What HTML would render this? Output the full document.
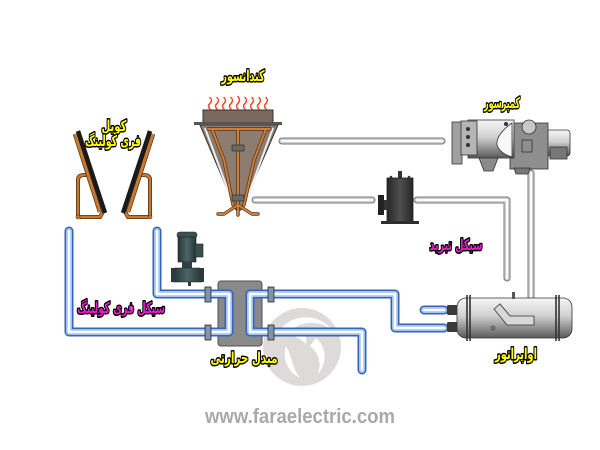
<!DOCTYPE html>
<html><head><meta charset="utf-8">
<style>
html,body{margin:0;padding:0;background:#fff;}
svg{display:block;}
.lbl{font-family:"DejaVu Sans",sans-serif;font-weight:bold;font-size:15px;stroke:#000;stroke-width:3px;paint-order:stroke fill;stroke-linejoin:round;}
.y{fill:#ffff00;}
.m{fill:#e61ec8;}
</style></head><body>
<svg width="600" height="450" viewBox="0 0 600 450" xmlns="http://www.w3.org/2000/svg">
<defs>
 <linearGradient id="cyl" x1="0" y1="0" x2="0" y2="1">
   <stop offset="0" stop-color="#f6f6f6"/><stop offset="0.45" stop-color="#d0d0d0"/><stop offset="1" stop-color="#5a5a5a"/>
 </linearGradient>
 <linearGradient id="dark" x1="0" y1="0" x2="1" y2="0">
   <stop offset="0" stop-color="#262626"/><stop offset="0.5" stop-color="#505050"/><stop offset="1" stop-color="#262626"/>
 </linearGradient>
 <linearGradient id="pumpg" x1="0" y1="0" x2="1" y2="0">
   <stop offset="0" stop-color="#253535"/><stop offset="0.5" stop-color="#4c6464"/><stop offset="1" stop-color="#253535"/>
 </linearGradient>
 <path id="bp" d="M69,231 V332 H212 M157,231 V294 H212 M206,294 H229 V332 H206 M274,294 H250 V332 H274 M270,294 H395 V328 H444 M270,332 H362 V370 M424,310 H444"/>
 <path id="gp" d="M282,141 H442 M255,200 H372 M417,200 H507 V278 M531,173 V297"/>
 <g id="coil">
   <path d="M78,217 V180 Q78,175 84,175 H88" fill="none" stroke="#5a3210" stroke-width="4"/>
   <path d="M78,217 V180 Q78,175 84,175 H88" fill="none" stroke="#c47a34" stroke-width="2.4"/>
   <path d="M80,217 H100 L104,210" fill="none" stroke="#5a3210" stroke-width="4"/>
   <path d="M80,217 H100 L104,210" fill="none" stroke="#c47a34" stroke-width="2.4"/>
   <path d="M75,134 L100,212" fill="none" stroke="#5a3210" stroke-width="4.5"/>
   <path d="M75,134 L100,212" fill="none" stroke="#c47a34" stroke-width="3"/>
   <path d="M78,131 L105,213" fill="none" stroke="#1a1a1a" stroke-width="4.5"/>
   <circle cx="78" cy="217" r="2" fill="#c47a34" stroke="#5a3210" stroke-width="0.6"/>
 </g>
</defs>
<rect width="600" height="450" fill="#fff"/>

<!-- watermark -->
<circle cx="302" cy="347" r="39" fill="#dedada"/>
<path d="M280,330 C292,314 318,312 332,330 C322,322 306,320 294,328 C302,330 308,336 306,344 C300,338 290,334 280,330 Z" fill="#fff"/>
<path d="M316,338 C326,346 328,362 318,374 C322,362 318,352 310,346 Z" fill="#fff"/>
<path d="M286,346 C292,356 292,368 300,378 C288,372 282,360 286,346 Z" fill="#fff"/>
<text x="300" y="423" text-anchor="middle" font-family="Liberation Sans, sans-serif" font-weight="bold" font-size="20" fill="#a9a9a9" textLength="190" lengthAdjust="spacingAndGlyphs">www.faraelectric.com</text>

<!-- gray refrigerant pipes -->
<use href="#gp" fill="none" stroke="#7a7a7a" stroke-width="7" stroke-linecap="round" stroke-linejoin="round"/>
<use href="#gp" fill="none" stroke="#d0d0d0" stroke-width="5" stroke-linecap="round" stroke-linejoin="round"/>
<use href="#gp" fill="none" stroke="#fbfbfb" stroke-width="2" stroke-linecap="round" stroke-linejoin="round"/>

<!-- heat exchanger body -->
<rect x="218" y="281" width="44" height="65" rx="3" fill="#8a8a8a" stroke="#505050" stroke-width="1"/>

<!-- blue pipes -->
<use href="#bp" fill="none" stroke="#3466b8" stroke-width="9" stroke-linecap="round" stroke-linejoin="round"/>
<use href="#bp" fill="none" stroke="#a3c2ec" stroke-width="6" stroke-linecap="round" stroke-linejoin="round"/>
<use href="#bp" fill="none" stroke="#ffffff" stroke-width="2.6" stroke-linecap="round" stroke-linejoin="round"/>

<!-- HX flanges -->
<g fill="#7f93b0" stroke="#2a2a2a" stroke-width="0.8">
 <rect x="205" y="287" width="6" height="15"/>
 <rect x="205" y="325" width="6" height="15"/>
 <rect x="268" y="287" width="6" height="15"/>
 <rect x="268" y="325" width="6" height="15"/>
</g>

<!-- coils -->
<use href="#coil"/>
<use href="#coil" transform="matrix(-1,0,0,1,228,0)"/>

<!-- condenser -->
<g fill="none" stroke="#f04a28" stroke-width="1.5" stroke-linecap="round">
 <path d="M210,109 q-3,-3 0,-5.5 q3,-3 0,-6"/>
 <path d="M217,109 q-3,-3 0,-5.5 q3,-3 0,-6"/>
 <path d="M224,109 q-3,-3 0,-5.5 q3,-3 0,-6"/>
 <path d="M231,109 q-3,-3 0,-5.5 q3,-3 0,-6"/>
 <path d="M238,109 q-3,-3 0,-5.5 q3,-3 0,-7"/>
 <path d="M245,109 q-3,-3 0,-5.5 q3,-3 0,-6"/>
 <path d="M252,109 q-3,-3 0,-5.5 q3,-3 0,-6"/>
 <path d="M259,109 q-3,-3 0,-5.5 q3,-3 0,-6"/>
 <path d="M266,109 q-3,-3 0,-5.5 q3,-3 0,-6"/>
</g>
<polygon points="200,125 278,125 241,210 236,210" fill="#8c7d70" stroke="#333" stroke-width="1"/>
<path d="M205,128 L233,204" stroke="#eeeeee" stroke-width="2"/>
<path d="M273,128 L245,204" stroke="#eeeeee" stroke-width="2"/>
<rect x="203" y="110" width="70" height="13" fill="#7a6a5e" stroke="#333" stroke-width="1"/>
<rect x="194" y="122" width="88" height="3" fill="#555"/>
<g fill="none" stroke="#5a3210" stroke-width="3.4" stroke-linecap="round" stroke-linejoin="round">
 <path d="M208,129 H270"/>
 <path d="M238,129 V215"/>
 <path d="M212,129 L224,160 L233,205"/>
 <path d="M266,129 L254,160 L244,205"/>
 <path d="M238,205 L224,214 H218 M238,205 L252,214 H258"/>
</g>
<g fill="none" stroke="#c8803c" stroke-width="2" stroke-linecap="round" stroke-linejoin="round">
 <path d="M208,129 H270"/>
 <path d="M238,129 V215"/>
 <path d="M212,129 L224,160 L233,205"/>
 <path d="M266,129 L254,160 L244,205"/>
 <path d="M238,205 L224,214 H218 M238,205 L252,214 H258"/>
</g>
<rect x="232" y="145" width="12" height="6" fill="#6a6a6a" stroke="#222" stroke-width="0.6"/>
<rect x="232" y="195" width="12" height="6" fill="#6a6a6a" stroke="#222" stroke-width="0.6"/>

<!-- compressor -->
<g stroke="#333" stroke-width="0.8">
 <rect x="545" y="130" width="25" height="26" rx="3" fill="url(#cyl)"/>
 <rect x="550" y="147" width="17" height="12" fill="#777"/>
 <rect x="510" y="123" width="38" height="46" fill="#8e8e8e"/>
 <rect x="468" y="120" width="46" height="38" fill="url(#cyl)"/>
 <path d="M512,123 C502,130 496,138 497,145 C499,151 505,155 512,157 Z" fill="#f8f8f8"/>
 <rect x="452" y="122" width="10" height="42" fill="#a0a0a0"/>
 <rect x="461" y="121" width="16" height="34" fill="#b5b5b5"/>
 <path d="M479,158 L498,158 L493,171 L484,171 Z" fill="#8a8a8a"/>
 <path d="M514,168 L530,168 L528,174 L516,174 Z" fill="#777"/>
 <circle cx="529" cy="127" r="7" fill="#c8c8c8"/>
 <rect x="522" y="140" width="10" height="12" fill="none"/>
</g>
<g fill="#333">
 <circle cx="468" cy="129" r="2"/><circle cx="468" cy="137" r="2"/><circle cx="468" cy="145" r="2"/>
 <circle cx="506" cy="124" r="2"/>
</g>

<!-- receiver -->
<rect x="398" y="171" width="4" height="8" fill="#333"/>
<rect x="387" y="178" width="26" height="45" fill="url(#dark)" stroke="#1e1e1e" stroke-width="0.8"/>
<rect x="381" y="221" width="38" height="3" fill="#2e2e2e"/>
<rect x="378" y="195" width="6" height="20" fill="#222"/>
<rect x="384" y="200" width="4" height="10" fill="#333"/>
<circle cx="391" cy="177" r="1.3" fill="#333"/><circle cx="409" cy="177" r="1.3" fill="#333"/>

<!-- pump -->
<rect x="177" y="232" width="20" height="6" rx="3" fill="#3c5252" stroke="#1a2424" stroke-width="0.6"/>
<rect x="178" y="237" width="18" height="25" fill="url(#pumpg)" stroke="#1a2424" stroke-width="0.6"/>
<rect x="195" y="244" width="8" height="13" fill="#3a4e4e" stroke="#1a2424" stroke-width="0.6"/>
<rect x="182" y="262" width="10" height="6" fill="#2e4040"/>
<path d="M175,268 H200 L202,282 H173 Z" fill="url(#pumpg)" stroke="#1a2424" stroke-width="0.6"/>
<rect x="171" y="268" width="4" height="14" fill="#2b3b3b"/>
<rect x="200" y="268" width="4" height="14" fill="#2b3b3b"/>
<rect x="188" y="282" width="3" height="4" fill="#2b3b3b"/>

<!-- evaporator -->
<rect x="447" y="305" width="12" height="10" rx="1.5" fill="#3a3a3a"/>
<rect x="447" y="322" width="12" height="10" rx="1.5" fill="#3a3a3a"/>
<rect x="457" y="298" width="115" height="40" rx="9" fill="url(#cyl)" stroke="#333" stroke-width="0.8"/>
<rect x="512" y="292" width="3" height="7" fill="#555"/>
<g stroke="#333" stroke-width="1.6">
 <line x1="467" y1="295" x2="467" y2="341"/>
 <line x1="470" y1="295" x2="470" y2="341"/>
 <line x1="556" y1="295" x2="556" y2="341"/>
 <line x1="559" y1="295" x2="559" y2="341"/>
</g>
<path d="M494,309 L507,325 H534 V316 H510 L500,304 Z" fill="#d8d8d8" stroke="#333" stroke-width="0.8"/>
<circle cx="493" cy="328" r="1.8" fill="none" stroke="#333" stroke-width="0.8"/>

<!-- labels -->
<text class="lbl y" x="243" y="81" text-anchor="middle" textLength="43" lengthAdjust="spacingAndGlyphs">کندانسور</text>
<text class="lbl y" x="114" y="131" text-anchor="middle" textLength="25" lengthAdjust="spacingAndGlyphs">کویل</text>
<text class="lbl y" x="113" y="146" text-anchor="middle" textLength="56" lengthAdjust="spacingAndGlyphs">فری کولینگ</text>
<text class="lbl y" x="502" y="108" text-anchor="middle" textLength="36" lengthAdjust="spacingAndGlyphs">کمپرسور</text>
<text class="lbl m" x="456" y="250" text-anchor="middle" textLength="53" lengthAdjust="spacingAndGlyphs">سیکل تبرید</text>
<text class="lbl m" x="121" y="313" text-anchor="middle" textLength="88" lengthAdjust="spacingAndGlyphs">سیکل فری کولینگ</text>
<text class="lbl y" x="244" y="363" text-anchor="middle" textLength="67" lengthAdjust="spacingAndGlyphs">مبدل حرارتی</text>
<text class="lbl y" x="516" y="359" text-anchor="middle" textLength="42" lengthAdjust="spacingAndGlyphs">اواپراتور</text>
</svg>
</body></html>
